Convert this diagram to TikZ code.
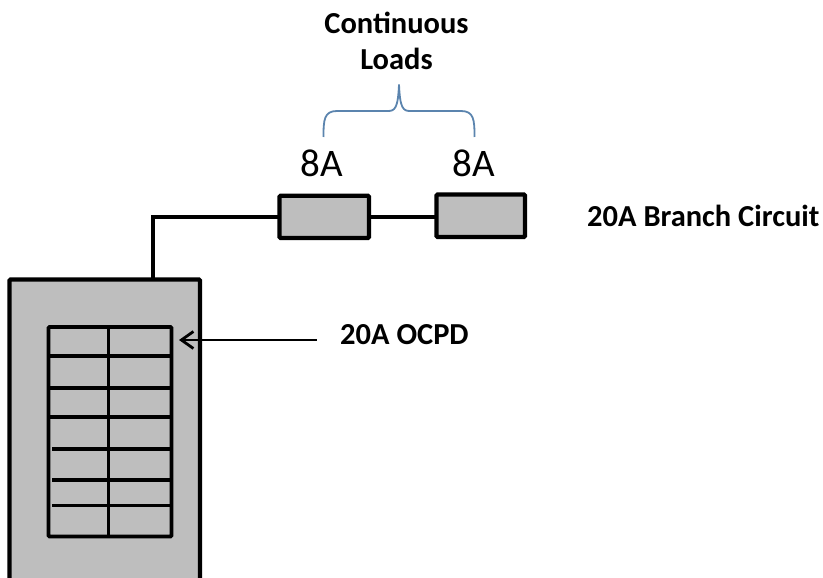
\documentclass[tikz,border=0pt]{standalone}
\usepackage{fontspec}
\setmainfont{Carlito}
\usetikzlibrary{arrows.meta}
\definecolor{boxgray}{HTML}{BEBEBE}
\definecolor{braceblue}{HTML}{5B84AE}
\tikzset{
  x=1pt,y=-1pt,
  graybox/.style={draw=black,line width=4.2pt,fill=boxgray,rounded corners=1pt,inner sep=0pt,outer sep=0pt,minimum width=0pt},
  wire/.style={draw=black,line width=3.6pt},
  grid/.style={draw=black,line width=3.4pt},
  bold label/.style={font=\fontsize{30.5}{34}\selectfont\bfseries,inner sep=0pt,align=center},
  amps/.style={font=\fontsize{39}{42}\selectfont,inner sep=0pt},
}
\begin{document}
\begin{tikzpicture}
\useasboundingbox (0,0) rectangle (823,578);
% panel
\fill[boxgray] (9.5,279.5) rectangle (200,578);
\draw[line width=4.2pt,rounded corners=1pt] (9.5,578) -- (9.5,279.5) -- (200,279.5) -- (200,578);
% breaker grid
\node[graybox,line width=3.8pt,minimum width=123pt,minimum height=209.5pt,anchor=north west] (breaker) at (48.5,327) {};
\foreach \yy in {356,388,417} \draw[grid] (48.5,\yy) -- (171.5,\yy);
\foreach \yy in {449,480,505.7} \draw[grid] (52,\yy) -- (171.5,\yy);
\draw[grid] (108.5,327) -- (108.5,536.5);
% loads
\node[graybox,minimum width=89.5pt,minimum height=42.2pt,anchor=north west] (loadA) at (279.5,195.8) {};
\node[graybox,minimum width=88.5pt,minimum height=42.5pt,anchor=north west] (loadB) at (436.5,194.5) {};
\coordinate (panelTop) at (153,279.5);
\draw[wire] (panelTop) |- (loadA.west);
\draw[wire] (loadA.east) -- (loadB.west |- loadA.east);
% brace
\coordinate (braceL) at (323.5,137);
\coordinate (braceR) at (474.5,137);
\coordinate (braceT) at (399,84.5);
\draw[braceblue,line width=1.8pt]
  (braceL) .. controls (323.5,120) and (324,111) .. (337,111) -- (388,111)
  .. controls (395,111) and (398,108) .. (braceT)
  .. controls (400,108) and (403,111) .. (410,111) -- (461,111)
  .. controls (474,111) and (474.5,120) .. (braceR);
% labels
\node[amps] (a1) at (322,163) {8A};
\node[amps] (a2) at (473.5,163) {8A};
\node[bold label] (cl1) at (396.5,22.5) {Continuous};
\node[bold label] (cl2) at (396.5,59) {Loads};
\node[bold label,anchor=west] (branch) at (587,216) {20A Branch Circuit};
\node[bold label,anchor=west] (ocpd) at (340,335) {20A OCPD};
% arrow
\coordinate (arrowEnd) at (316.7,340);
\coordinate (arrowTip) at (179,340);
\draw[black,line width=2.8pt,-{Straight Barb[length=12pt,width=17pt,line width=2.8pt]}] (arrowEnd) -- (arrowTip);
\end{tikzpicture}
\end{document}
